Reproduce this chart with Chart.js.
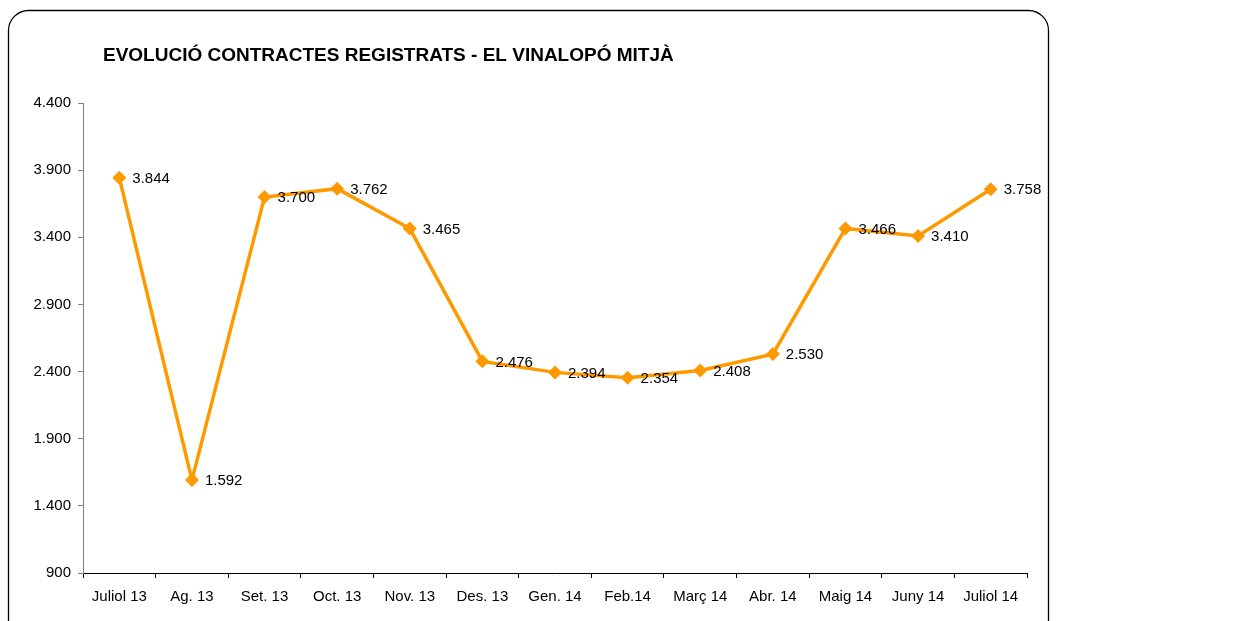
<!DOCTYPE html>
<html>
<head>
<meta charset="utf-8">
<script src="https://cdn.jsdelivr.net/npm/chart.js@4"></script>
<style>
 html,body{margin:0;padding:0;background:#fff;}
 #wrap{position:relative;width:1234px;height:621px;}
</style>
</head>
<body>
<div id="wrap"><canvas id="chart" width="1234" height="621"></canvas></div>
<script>
/* ---------------- data ---------------- */
const TITLE="EVOLUCIÓ CONTRACTES REGISTRATS - EL VINALOPÓ MITJÀ";
const MONTHS=["Juliol 13","Ag. 13","Set. 13","Oct. 13","Nov. 13","Des. 13","Gen. 14","Feb.14","Març 14","Abr. 14","Maig 14","Juny 14","Juliol 14"];
const CONTRACTS=[3844,1592,3700,3762,3465,2476,2394,2354,2408,2530,3466,3410,3758];
const Y_MIN=900, Y_MAX=4400, Y_STEP=500;

const fmt=v=>String(v).replace(/\B(?=(\d{3})+(?!\d))/g,".");
const FONT="'Liberation Sans', Arial, sans-serif";

/* ---------------- frame + title ---------------- */
const frame={id:"frame",
 beforeDraw(c){const x=c.ctx;x.save();
  x.strokeStyle="#000";x.lineWidth=1.3;
  x.beginPath();x.roundRect(8.5,10.5,1040,640,20);x.stroke();
  x.fillStyle="#000";x.font="bold 19px "+FONT;x.textBaseline="middle";x.textAlign="left";
  x.fillText(TITLE,103,56);
  x.restore();}};

/* ---------------- value labels right of each point ---------------- */
const valueLabels={id:"valueLabels",
 afterDatasetsDraw(c){const x=c.ctx;x.save();
  x.font="15px "+FONT;x.fillStyle="#000";x.textBaseline="middle";x.textAlign="left";
  c.getDatasetMeta(0).data.forEach((p,i)=>x.fillText(fmt(CONTRACTS[i]),p.x+13,p.y+1));
  x.restore();}};

new Chart(document.getElementById("chart"),{
 type:"line",
 data:{labels:MONTHS,datasets:[{data:CONTRACTS,borderColor:"#FF9900",backgroundColor:"#FF9900",
  borderWidth:3.5,tension:0,pointStyle:"rectRot",pointRadius:7,pointHoverRadius:7,pointBorderWidth:0}]},
 options:{responsive:false,animation:false,
  layout:{padding:{left:0,top:103,right:207,bottom:0}},
  plugins:{legend:{display:false},tooltip:{enabled:false},title:{display:false}},
  scales:{
   x:{offset:true,
    grid:{offset:true,drawOnChartArea:false,tickLength:5,color:"#000",tickColor:"#000"},
    border:{color:"#000",width:1},
    ticks:{color:"#000",font:{family:FONT,size:15},maxRotation:0,autoSkip:false,padding:10},
    afterFit(s){s.height=48;}},
   y:{min:Y_MIN,max:Y_MAX,
    grid:{drawOnChartArea:false,tickLength:5,color:"#808080",tickColor:"#808080"},
    border:{color:"#808080",width:1},
    ticks:{stepSize:Y_STEP,color:"#000",font:{family:FONT,size:15},padding:7,callback:v=>fmt(v)},
    afterFit(s){s.width=83;}}
  }},
 plugins:[frame,valueLabels]
});
</script>
</body>
</html>
